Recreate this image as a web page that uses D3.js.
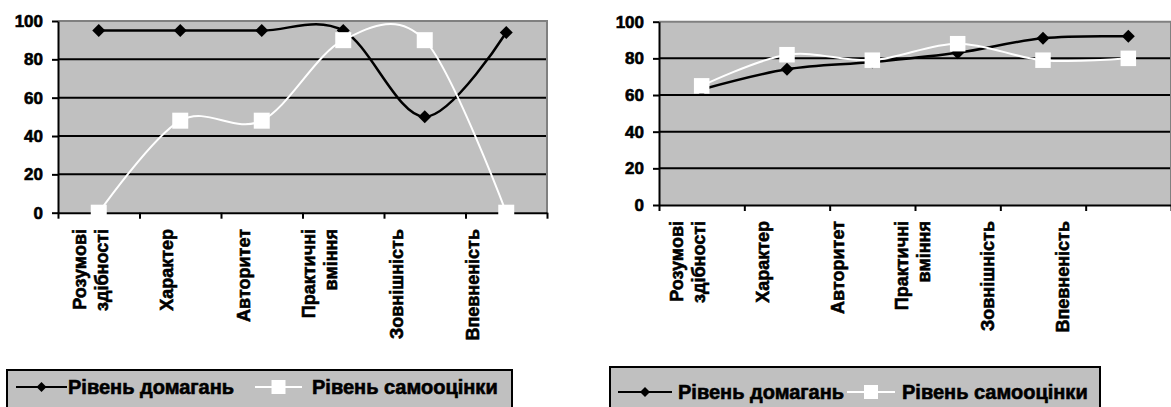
<!DOCTYPE html>
<html>
<head>
<meta charset="utf-8">
<script src="https://cdn.jsdelivr.net/npm/d3@7/dist/d3.min.js"></script>
<style>
  html, body { margin: 0; padding: 0; background: #fff; }
  svg { display: block; }
  text { font-family: "Liberation Sans", Arimo, sans-serif; font-weight: 700; fill: #000; }
  .heavy { stroke: #000; stroke-width: 0.6px; paint-order: stroke; }
</style>
</head>
<body>
<svg id="chart" width="1171" height="407"></svg>
<script>
// Categories shared by both panels
const categories = ["Розумові здібності", "Характер", "Авторитет", "Практичні вміння", "Зовнішність", "Впевненість"];
const seriesNames = ["Рівень домагань", "Рівень самооцінки"];
const yTicks = [0, 20, 40, 60, 80, 100];

// Left panel values
const leftAspiration = [95, 95, 95, 95, 50, 94];
const leftSelfEsteem = [0, 48, 48, 90, 90, 0];

// Right panel values
const rightAspiration = [63, 74, 78, 83, 91, 92];
const rightSelfEsteem = [65, 82, 79, 88, 79, 80];

const FONT = "'Liberation Sans', Arimo, sans-serif";

// Panel geometry
const panels = [
  {
    series: [leftAspiration, leftSelfEsteem],
    x: [58, 547], y: [212.7, 21], squareSize: 16,
    labelRange: [91, 473], labelTop: 229,
    legend: { x: 7, y: 370, w: 505, h: 50, cy: 387,
      items: [{ l0: 16, l1: 67, text: 68 }, { l0: 255, l1: 302, text: 312 }] }
  },
  {
    series: [rightAspiration, rightSelfEsteem],
    x: [659, 1171], y: [205, 21.7], squareSize: 15.5,
    labelRange: [688, 1063], labelTop: 221,
    legend: { x: 610, y: 367, w: 490, h: 50, cy: 392,
      items: [{ l0: 618, l1: 672, text: 678 }, { l0: 847, l1: 895, text: 902 }] }
  }
];

const svg = d3.select("#chart");
const plotFill = "#c0c0c0";
const styles = [
  { stroke: "#000", width: 2.5, marker: "diamond" },
  { stroke: "#fff", width: 2, marker: "square" }
];

function markerPath(kind, size) {
  if (kind === "diamond") return d3.symbol(d3.symbolSquare, size * size / 2)();
  return d3.symbol(d3.symbolSquare, size * size)();
}

panels.forEach(p => {
  const g = svg.append("g");
  const x = d3.scaleBand().domain(categories).range(p.x);
  const xEdge = d3.scaleLinear().domain([0, categories.length]).range(p.x);
  const y = d3.scaleLinear().domain([0, 100]).range(p.y);

  // plot area
  g.append("rect")
    .attr("x", p.x[0]).attr("y", y(100))
    .attr("width", p.x[1] - p.x[0]).attr("height", y(0) - y(100))
    .attr("fill", plotFill);

  // horizontal gridlines
  g.selectAll("line.grid").data(yTicks.filter(t => t > 0 && t < 100)).join("line")
    .attr("class", "grid")
    .attr("x1", p.x[0]).attr("x2", p.x[1])
    .attr("y1", d => y(d)).attr("y2", d => y(d))
    .attr("stroke", "#000").attr("stroke-width", 2);

  // top and right border of plot area
  g.append("path")
    .attr("d", `M${p.x[0]},${y(100)}H${p.x[1]}V${y(0)}`)
    .attr("fill", "none").attr("stroke", "#808080").attr("stroke-width", 2);

  // y axis
  const yAxis = g.append("g")
    .attr("transform", `translate(${p.x[0]},0)`)
    .call(d3.axisLeft(y).tickValues(yTicks).tickSize(6).tickSizeOuter(0).tickPadding(9));
  yAxis.attr("font-family", null).attr("font-size", null);
  yAxis.select(".domain").attr("stroke", "#000").attr("stroke-width", 2);
  yAxis.selectAll(".tick line").attr("stroke", "#000").attr("stroke-width", 2);
  yAxis.selectAll(".tick text")
    .attr("class", "heavy")
    .attr("fill", "#000")
    .style("font-family", FONT)
    .style("font-weight", "700").style("font-size", "17px");

  // x axis with ticks at category boundaries
  const xAxis = g.append("g")
    .attr("transform", `translate(0,${y(0)})`)
    .call(d3.axisBottom(xEdge).tickValues(d3.range(categories.length + 1))
      .tickFormat("").tickSize(6).tickSizeOuter(0));
  xAxis.select(".domain").attr("stroke", "#000").attr("stroke-width", 2);
  xAxis.selectAll(".tick line").attr("stroke", "#000").attr("stroke-width", 2);

  // rotated category labels
  const lx = d3.scalePoint().domain(categories).range(p.labelRange);
  categories.forEach(c => {
    const lines = c.split(" ");
    lines.forEach((ln, i) => {
      const off = (i - (lines.length - 1) / 2) * 22;
      g.append("text")
        .attr("class", "heavy")
        .attr("transform", `translate(${lx(c) + off},${p.labelTop}) rotate(-90)`)
        .attr("text-anchor", "end")
        .attr("dominant-baseline", "central")
        .style("font-family", FONT).style("font-weight", "700")
        .style("font-size", "18px")
        .text(ln);
    });
  });

  // series lines and markers
  p.series.forEach((vals, si) => {
    const st = styles[si];
    const pts = vals.map((v, i) => [x(categories[i]) + x.bandwidth() / 2, y(v)]);
    g.append("path")
      .attr("d", d3.line().curve(d3.curveCardinal.tension(0))(pts))
      .attr("fill", "none").attr("stroke", st.stroke).attr("stroke-width", st.width);
    g.selectAll(null).data(pts).join("path")
      .attr("transform", d => `translate(${d[0]},${d[1]})` + (st.marker === "diamond" ? " rotate(45)" : ""))
      .attr("d", st.marker === "diamond" ? markerPath("diamond", 13) : markerPath("square", p.squareSize))
      .attr("fill", st.stroke);
  });

  // legend
  const L = p.legend;
  const lg = g.append("g");
  lg.append("rect").attr("x", L.x).attr("y", L.y).attr("width", L.w).attr("height", L.h)
    .attr("fill", plotFill).attr("stroke", "#000").attr("stroke-width", 2);
  L.items.forEach((it, si) => {
    const st = styles[si];
    lg.append("line").attr("x1", it.l0).attr("x2", it.l1).attr("y1", L.cy).attr("y2", L.cy)
      .attr("stroke", st.stroke).attr("stroke-width", 2);
    const mx = (it.l0 + it.l1) / 2;
    lg.append("path")
      .attr("transform", `translate(${mx},${L.cy})` + (st.marker === "diamond" ? " rotate(45)" : ""))
      .attr("d", st.marker === "diamond" ? markerPath("diamond", 10) : markerPath("square", 14))
      .attr("fill", st.stroke);
    lg.append("text").attr("x", it.text).attr("y", L.cy)
      .attr("class", "heavy")
      .attr("dominant-baseline", "central")
      .style("font-family", FONT).style("font-weight", "700")
      .style("font-size", "20px")
      .text(seriesNames[si]);
  });
});
</script>
</body>
</html>
